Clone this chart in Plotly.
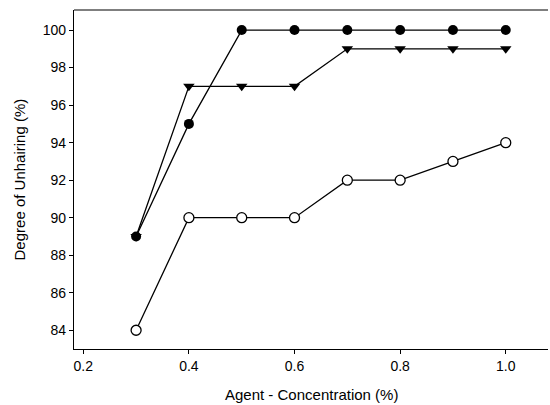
import plotly.graph_objects as go

concentration = [0.3, 0.4, 0.5, 0.6, 0.7, 0.8, 0.9, 1.0]
series_filled_circle = [89, 95, 100, 100, 100, 100, 100, 100]
series_triangle = [89, 97, 97, 97, 99, 99, 99, 99]
series_open_circle = [84, 90, 90, 90, 92, 92, 93, 94]
x_ticks = [0.2, 0.4, 0.6, 0.8, 1.0]
x_tick_labels = ["0.2", "0.4", "0.6", "0.8", "1.0"]
y_ticks = [84, 86, 88, 90, 92, 94, 96, 98, 100]

fig = go.Figure()
line = dict(color="black", width=1.3)
fig.add_trace(go.Scatter(x=concentration, y=series_open_circle, mode="lines+markers",
                         line=line,
                         marker=dict(symbol="circle", size=10, color="white",
                                     line=dict(color="black", width=1.3))))
fig.add_trace(go.Scatter(x=concentration, y=series_triangle, mode="lines+markers",
                         line=line,
                         marker=dict(symbol="triangle-down", size=10, color="black")))
fig.add_trace(go.Scatter(x=concentration, y=series_filled_circle, mode="lines+markers",
                         line=line,
                         marker=dict(symbol="circle", size=10, color="black")))

font = dict(family="Liberation Sans, Arial, sans-serif", size=14, color="black")
fig.update_layout(
    width=550, height=405,
    margin=dict(l=74, r=2, t=10, b=56),
    paper_bgcolor="white", plot_bgcolor="white",
    showlegend=False,
    font=font,
    xaxis=dict(range=[0.1824, 1.08], tickvals=x_ticks, ticktext=x_tick_labels,
               showgrid=False, zeroline=False, showline=True, linecolor="black",
               linewidth=1.2, mirror=False, ticks="outside", ticklen=4,
               tickcolor="black", tickfont=dict(size=14)),
    yaxis=dict(range=[83.0, 101.07], tickvals=y_ticks,
               showgrid=False, zeroline=False, showline=True, linecolor="black",
               linewidth=1.2, ticks="outside", ticklen=4, tickcolor="black",
               tickfont=dict(size=14)),
    shapes=[dict(type="line", xref="paper", yref="paper", x0=0, x1=1, y0=1, y1=1,
                 line=dict(color="black", width=1.2))],
    annotations=[
        dict(text="Agent - Concentration (%)", xref="paper", yref="paper",
             x=0.5, y=-0.135, xanchor="center", yanchor="middle",
             showarrow=False, font=dict(size=15)),
        dict(text="Degree of Unhairing (%)", xref="paper", yref="paper",
             x=-0.114, y=0.5, xanchor="center", yanchor="middle", textangle=-90,
             showarrow=False, font=dict(size=15)),
    ],
)
fig.write_html("out.html", config={"displayModeBar": False})

with open("out.html", "r", encoding="utf-8") as f:
    html = f.read()
html = html.replace("<head>", "<head><style>html,body{margin:0;padding:0;overflow:hidden;}</style>", 1)
with open("out.html", "w", encoding="utf-8") as f:
    f.write(html)
